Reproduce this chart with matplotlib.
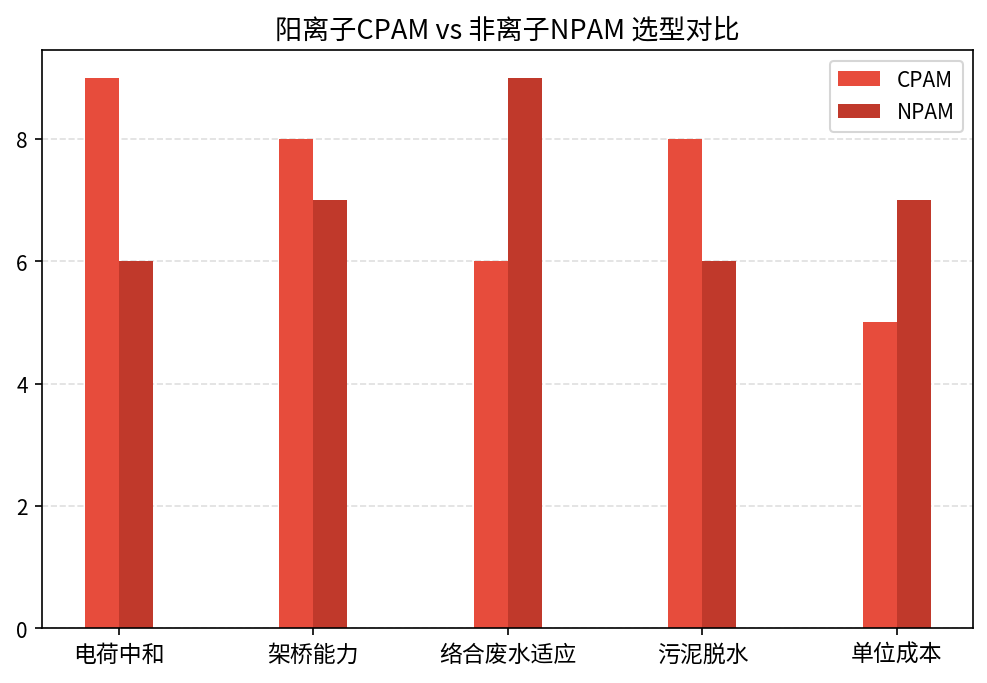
import matplotlib
matplotlib.use("Agg")
import matplotlib.pyplot as plt
import numpy as np

plt.rcParams['font.family'] = ['Noto Sans CJK SC', 'DejaVu Sans']

categories = ['电荷中和', '架桥能力', '络合废水适应', '污泥脱水', '单位成本']
cpam = [9, 8, 6, 8, 5]
npam = [6, 7, 9, 6, 7]

fig, ax = plt.subplots(figsize=(6.58, 4.56), dpi=150)
x = np.arange(len(categories))
w = 0.175
ax.bar(x - w/2, cpam, w, color='#e74c3c', label='CPAM')
ax.bar(x + w/2, npam, w, color='#c0392b', label='NPAM')
ax.set_xticks(x)
ax.set_xticklabels(categories, fontsize=11)
ax.set_title('阳离子CPAM vs 非离子NPAM 选型对比', fontsize=13)
ax.yaxis.grid(True, linestyle='--', alpha=0.4)
ax.set_axisbelow(True)
ax.legend(loc='upper right')
fig.subplots_adjust(left=0.043, right=0.986, top=0.925, bottom=0.08)
fig.savefig('out.png', dpi=150)
